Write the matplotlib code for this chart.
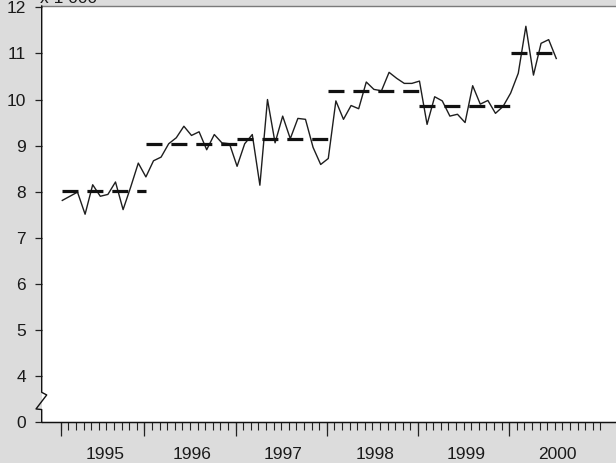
import numpy as np
import matplotlib
matplotlib.use('Agg')
import matplotlib.pyplot as plt
import matplotlib.transforms as mtransforms

plt.rcParams['font.family'] = ['Liberation Sans', 'DejaVu Sans']

# ---- data (monthly, Jan 1995 .. Jun 2000, in thousands) ----
years = ['1995', '1996', '1997', '1998', '1999', '2000']
values = [7.81, 7.90, 7.99, 7.51, 8.15, 7.90, 7.94, 8.21, 7.61, 8.10, 8.62, 8.32,
          8.67, 8.75, 9.04, 9.17, 9.42, 9.22, 9.30, 8.91, 9.24, 9.06, 9.04, 8.55,
          9.04, 9.24, 8.14, 10.00, 9.06, 9.64, 9.15, 9.59, 9.57, 8.96, 8.59, 8.72,
          9.97, 9.57, 9.87, 9.80, 10.38, 10.22, 10.19, 10.59, 10.46, 10.35, 10.35, 10.40,
          9.46, 10.06, 9.97, 9.64, 9.68, 9.50, 10.30, 9.90, 9.98, 9.70, 9.85, 10.14,
          10.57, 11.59, 10.53, 11.22, 11.30, 10.89]
annual_means = [8.01, 9.03, 9.14, 10.18, 9.85, 11.02]
ytick_values = [3, 4, 5, 6, 7, 8, 9, 10, 11, 12]
ytick_labels = ['0', '4', '5', '6', '7', '8', '9', '10', '11', '12']
title_text = 'x 1 000'

months = np.arange(len(values))
n_axis_months = 12 * len(years)

W, H = 616, 463
fig = plt.figure(figsize=(W / 100, H / 100), dpi=100, facecolor='#dcdcdc')
left_px, bottom_px, top_px = 41.7, 422, 6
ax = fig.add_axes([left_px / W, 1 - bottom_px / H, 1 - left_px / W, (bottom_px - top_px) / H])
ax.set_facecolor('white')

# monthly line
ax.plot(months, values, color='#1e1e1e', lw=1.0, zorder=3)

# annual means as dashed segments (from previous year-boundary tick to next)
for k, m in enumerate(annual_means):
    s = max(12 * k - 1, 0)
    e = min(12 * k + 11, months[-1])
    ax.plot([s, e], [m, m], color='#111111', lw=2.3, dashes=(5.0, 2.8),
            solid_capstyle='butt', dash_capstyle='butt', zorder=4)

# axes limits
ax.set_xlim(-2.71, 72.86)
ax.set_ylim(3, 12.03)

tick_shift = -0.2
# year labels (centered), no tick mark
label_pos = [(max(12 * k - 1, 0) + 12 * k + 11) / 2 + 0.1 for k in range(len(years))]
ax.set_xticks(label_pos, labels=years)
ax.tick_params(axis='x', which='major', length=0, pad=18, labelsize=12.5, labelcolor='#1a1a1a')
# monthly minor ticks
ax.set_xticks(np.arange(n_axis_months) + tick_shift, minor=True)
ax.tick_params(axis='x', which='minor', length=5.5, width=0.8, color='#222222', direction='out')

# year boundary ticks on a secondary axis
sec = ax.secondary_xaxis('bottom')
bounds = [0] + [12 * k - 1 for k in range(1, len(years))]
sec.set_xticks(np.array(bounds) + tick_shift, labels=[''] * len(bounds))
sec.tick_params(axis='x', length=10, width=0.9, color='#222222', direction='out')
sec.spines['bottom'].set_color('#111111')

# y axis
ax.set_yticks(ytick_values, labels=ytick_labels)
ax.tick_params(axis='y', length=4.8, width=0.9, color='#222222', pad=6.5,
               labelsize=12.5, labelcolor='#1a1a1a')

ax.spines['right'].set_visible(False)
ax.spines['left'].set_visible(False)
ax.spines['top'].set_color('#7a7a7a')
ax.spines['top'].set_linewidth(1.0)
ax.spines['bottom'].set_color('#111111')
ax.spines['bottom'].set_linewidth(1.0)

# left spine with axis-break zigzag
axw = W - left_px
trans = mtransforms.blended_transform_factory(ax.transAxes, ax.transData)
ytop = ax.get_ylim()[1]
xs = [0, 0, 5 / axw, -5.7 / axw, 0, 0]
ys = [ytop, 3.644, 3.587, 3.283, 3.27, 3]
ax.plot(xs, ys, transform=trans, color='#111111', lw=1.0, clip_on=False, zorder=5)

# unit text (partly cut at the top)
fig.text(40 / W, 1 - 3 / H, title_text, ha='left', va='baseline', fontsize=12.5, color='#1a1a1a')

fig.savefig('out.png', dpi=100, facecolor=fig.get_facecolor())
